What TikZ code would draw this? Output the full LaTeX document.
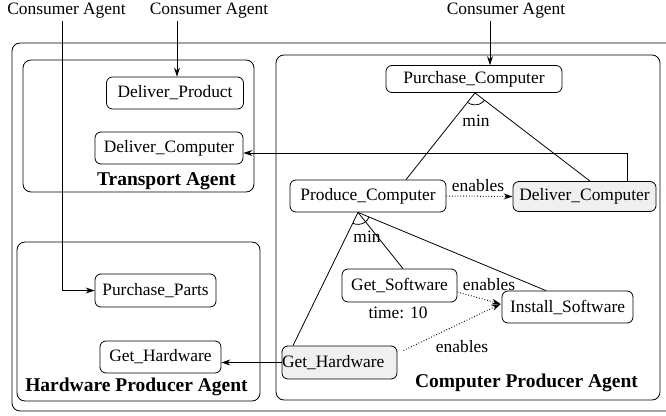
\documentclass[tikz,border=0pt]{standalone}
\usepackage{fontspec}
\setmainfont{Liberation Serif}
\usetikzlibrary{arrows.meta,calc}
\tikzset{
  task/.style={draw, rounded corners=6pt, minimum height=32pt, inner sep=0pt,
    font=\fontsize{17.4}{20}\selectfont, line width=0.8pt},
  graytask/.style={task, fill=black!6},
  group/.style={draw, rounded corners=8pt, line width=0.8pt},
  grouplabel/.style={font=\fontsize{19.5}{22}\selectfont\bfseries, inner sep=0pt},
  lbl/.style={font=\fontsize{17.4}{20}\selectfont, inner sep=0pt},
  conn/.style={line width=0.8pt},
  arr/.style={conn, -{Stealth[length=9pt,width=6pt,inset=3pt]}},
  enab/.style={arr, dotted, line width=1pt},
}
\begin{document}
\begin{tikzpicture}[x=1pt,y=-1pt]
\useasboundingbox (0,0) rectangle (666,415);
\clip (0,0) rectangle (666,415);
% groups
\draw[group] (12,43) rectangle (700,411);
\draw[group] (23,60) rectangle (254,192);
\draw[group] (17,242) rectangle (260,401);
\draw[group] (276,55) rectangle (660,400);
\node[grouplabel] (tal) at (166.5,181) {Transport Agent};
\node[grouplabel] (hwl) at (136.5,387) {Hardware Producer Agent};
\node[grouplabel] (cpl) at (526.5,383) {Computer Producer Agent};
% consumer labels
\node[lbl] (ca1) at (66.5,11) {Consumer Agent};
\node[lbl] (ca2) at (209,11) {Consumer Agent};
\node[lbl] (ca3) at (506,11) {Consumer Agent};
\coordinate (s1) at (62,21);
\coordinate (s2) at (177,21);
\coordinate (s3) at (490,21);
% tasks
\node[task, minimum width=137pt] (dp) at (175,93) {Deliver\_Product};
\node[task, minimum width=148pt] (dct) at (169,148) {Deliver\_Computer};
\node[task, minimum width=176pt, minimum height=27pt] (pc) at (474,79) {Purchase\_Computer};
\node[task, minimum width=156pt] (prc) at (368,196) {Produce\_Computer};
\node[graytask, minimum width=143pt, minimum height=30pt] (dcg) at (584.5,196.5) {Deliver\_Computer};
\node[task, minimum width=115pt, minimum height=33pt] (gs) at (399.5,285.5) {Get\_Software};
\node[task, minimum width=131pt] (is) at (567.5,307) {Install\_Software};
\node[graytask, minimum width=115pt, minimum height=33pt, text width=115pt, align=left] (ghc) at (339.5,362.5) {Get\_Hardware};
\node[task, minimum width=121pt] (ghh) at (160.5,357) {Get\_Hardware};
\node[task, minimum width=121pt, minimum height=33pt] (pp) at (155.5,290.5) {Purchase\_Parts};
% labels
\node[lbl] (m1) at (476,121) {min};
\node[lbl] (m2) at (367,237) {min};
\node[lbl] (t10) at (398,313) {time: 10};
\node[lbl] (e1) at (478,186) {enables};
\node[lbl] (e2) at (489,285) {enables};
\node[lbl] (e3) at (462,347) {enables};
% consumer arrows
\draw[arr] (s1) |- (pp.west);
\draw[arr] (s2) -- (dp.north -| s2);
\draw[arr] (s3) -- (pc.north -| s3);
% decomposition lines
\coordinate (pcb) at ([xshift=1pt]pc.south);
\draw[conn] (pcb) -- ([xshift=38pt]prc.north);
\draw[conn] (pcb) -- ([xshift=5.5pt]dcg.north);
\draw[conn] let \p1=($([xshift=38pt]prc.north)-(pcb)$), \p2=($([xshift=5.5pt]dcg.north)-(pcb)$),
  \n1={atan2(\y1,\x1)}, \n2={atan2(\y2,\x2)} in
  ($(pcb)+(\n1:12pt)$) arc[start angle=\n1, end angle=\n2, radius=12pt];
\coordinate (prb) at ([xshift=-10pt]prc.south);
\draw[conn] (prb) -- ([xshift=-46.5pt]ghc.north);
\draw[conn] (prb) -- ([xshift=3.5pt]gs.north);
\draw[conn] (prb) -- ([xshift=-21.5pt]is.north);
\draw[conn] let \p1=($([xshift=-46.5pt]ghc.north)-(prb)$), \p2=($([xshift=-21.5pt]is.north)-(prb)$),
  \n1={atan2(\y1,\x1)}, \n2={atan2(\y2,\x2)} in
  ($(prb)+(\n1:12pt)$) arc[start angle=\n1, end angle=\n2, radius=12pt];
% enables
\draw[enab] (prc.east) -- (dcg.west);
\draw[enab] ([yshift=-6.5pt]gs.east) -- ([xshift=-1pt,yshift=3pt]is.west);
\draw[enab] ([xshift=6pt,yshift=12pt]ghc.east) -- ([xshift=-1pt,yshift=3pt]is.west);
% cross-agent arrows
\coordinate (k) at (627,0);
\draw[arr] (dcg.north -| k) |- ([yshift=-5pt]dct.east);
\draw[arr] (ghc.west) -- (ghh.east |- ghc.west);
\end{tikzpicture}
\end{document}
